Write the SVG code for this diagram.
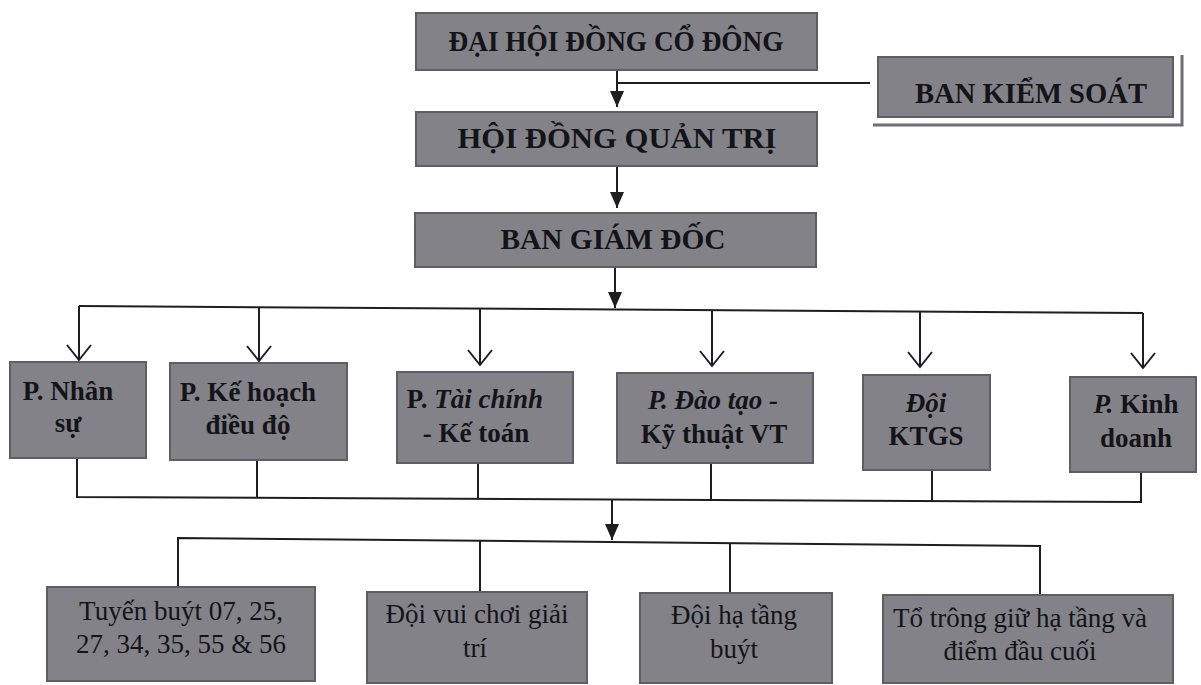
<svg xmlns="http://www.w3.org/2000/svg" width="1201" height="685" viewBox="0 0 1201 685">
<defs>
<style>
.box{fill:#828288;stroke:#5e5e64;stroke-width:2}
.t{font-family:"Liberation Serif","Times New Roman",serif;fill:#141418;text-anchor:middle}
.top{font-size:30px;font-weight:bold}
.mid{font-size:27px;font-weight:bold}
.bot{font-size:27px}
.ln{fill:none;stroke:#1e1e22;stroke-width:2}
</style>
<marker id="tri" viewBox="0 0 16 14" markerUnits="userSpaceOnUse" markerWidth="16" markerHeight="14" refX="16" refY="7" orient="auto">
<path d="M0,0 L16,7 L0,14 z" fill="#1e1e22"/>
</marker>
<marker id="vee" viewBox="0 0 18 26" markerUnits="userSpaceOnUse" markerWidth="18" markerHeight="26" refX="16" refY="13" orient="auto">
<path d="M1,1 L16,13 L1,25" fill="none" stroke="#1e1e22" stroke-width="2"/>
</marker>
</defs>
<rect width="1201" height="685" fill="#ffffff"/>

<g id="connectors">
<path class="ln" d="M617,70 V107" marker-end="url(#tri)"/>
<path class="ln" d="M617,83 H870"/>
<path class="ln" d="M617,166 V208" marker-end="url(#tri)"/>
<path class="ln" d="M615,267 V308" marker-end="url(#tri)"/>
<path class="ln" d="M79,306 L1143,313"/>
<path class="ln" d="M79,306 V360" marker-end="url(#vee)"/>
<path class="ln" d="M259,307 V361" marker-end="url(#vee)"/>
<path class="ln" d="M480,309 V365" marker-end="url(#vee)"/>
<path class="ln" d="M712,310 V366" marker-end="url(#vee)"/>
<path class="ln" d="M920,311.5 V367" marker-end="url(#vee)"/>
<path class="ln" d="M1143,313 V368" marker-end="url(#vee)"/>
<path class="ln" d="M77,458 V497 L1141,502 V472"/>
<path class="ln" d="M257,460 V498"/>
<path class="ln" d="M478,463 V499"/>
<path class="ln" d="M711,463 V500"/>
<path class="ln" d="M932,470 V501"/>
<path class="ln" d="M612,499 V540" marker-end="url(#tri)"/>
<path class="ln" d="M178,587 V538 L1040,546 V595"/>
<path class="ln" d="M480,541 V592"/>
<path class="ln" d="M730,543 V593"/>
</g>

<g id="n-dhdcd">
<rect class="box" x="416" y="13" width="401" height="57"/>
<text class="t top" x="616" y="51" textLength="335" lengthAdjust="spacingAndGlyphs">ĐẠI HỘI ĐỒNG CỔ ĐÔNG</text>
</g>
<g id="n-bks">
<path d="M1182,55 V125 H873" fill="none" stroke="#6e6e74" stroke-width="3"/>
<rect class="box" x="878" y="57" width="295" height="60"/>
<text class="t top" x="1031" y="103" textLength="232" lengthAdjust="spacingAndGlyphs">BAN KIỂM SOÁT</text>
</g>
<g id="n-hdqt">
<rect class="box" x="416" y="112" width="401" height="54"/>
<text class="t top" x="617" y="148" textLength="319" lengthAdjust="spacingAndGlyphs">HỘI ĐỒNG QUẢN TRỊ</text>
</g>
<g id="n-bgd">
<rect class="box" x="415" y="213" width="401" height="54"/>
<text class="t top" x="613" y="249" textLength="225" lengthAdjust="spacingAndGlyphs">BAN GIÁM ĐỐC</text>
</g>

<g id="n-nhansu">
<rect class="box" x="10" y="362" width="136" height="96"/>
<text class="t mid" x="68" y="400">P. Nhân</text>
<text class="t mid" x="68" y="432">sự</text>
</g>
<g id="n-kehoach">
<rect class="box" x="170" y="363" width="177" height="97"/>
<text class="t mid" x="248" y="401">P. Kế hoạch</text>
<text class="t mid" x="248" y="434">điều độ</text>
</g>
<g id="n-taichinh">
<rect class="box" x="397" y="372" width="176" height="91"/>
<text class="t mid" x="475" y="408">P. <tspan font-style="italic">Tài chính</tspan></text>
<text class="t mid" x="476" y="442">- Kế toán</text>
</g>
<g id="n-daotao">
<rect class="box" x="617" y="373" width="196" height="90"/>
<text class="t mid" x="713" y="409" font-style="italic">P. Đào tạo -</text>
<text class="t mid" x="714" y="443">Kỹ thuật VT</text>
</g>
<g id="n-ktgs">
<rect class="box" x="863" y="375" width="127" height="95"/>
<text class="t mid" x="926" y="412" font-style="italic">Đội</text>
<text class="t mid" x="926" y="445">KTGS</text>
</g>
<g id="n-kinhdoanh">
<rect class="box" x="1070" y="377" width="126" height="95"/>
<text class="t mid" x="1136" y="413"><tspan font-style="italic">P.</tspan> Kinh</text>
<text class="t mid" x="1136" y="447">doanh</text>
</g>

<g id="n-tuyen">
<rect class="box" x="47" y="587" width="268" height="94"/>
<text class="t bot" x="181" y="620">Tuyến buýt 07, 25,</text>
<text class="t bot" x="181" y="653">27, 34, 35, 55 &amp; 56</text>
</g>
<g id="n-vuichoi">
<rect class="box" x="367" y="592" width="220" height="91"/>
<text class="t bot" x="477" y="623">Đội vui chơi giải</text>
<text class="t bot" x="475" y="657">trí</text>
</g>
<g id="n-hatang">
<rect class="box" x="640" y="593" width="192" height="90"/>
<text class="t bot" x="734" y="624">Đội hạ tầng</text>
<text class="t bot" x="734" y="658">buýt</text>
</g>
<g id="n-totrong">
<rect class="box" x="883" y="595" width="290" height="88"/>
<text class="t bot" x="1020" y="627">Tổ trông giữ hạ tầng và</text>
<text class="t bot" x="1020" y="660">điểm đầu cuối</text>
</g>
</svg>
